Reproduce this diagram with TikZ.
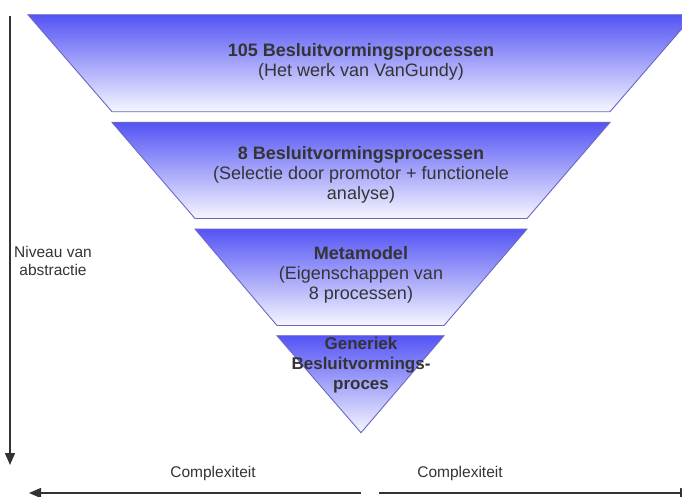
\documentclass[tikz,border=0pt]{standalone}
\usepackage{fontspec}
\setmainfont{Liberation Sans}
\usetikzlibrary{arrows.meta}
\definecolor{layertop}{RGB}{84,84,245}
\definecolor{layerbot}{RGB}{246,246,255}
\definecolor{layerline}{RGB}{104,104,196}
\definecolor{inktext}{RGB}{52,52,52}
\definecolor{axisline}{RGB}{50,50,50}
\tikzset{
  layer/.style={draw=layerline, line width=0.9pt, top color=layertop, bottom color=layerbot},
  caption/.style={align=center, text=inktext, font=\fontsize{18}{20}\selectfont, inner sep=0pt},
  axislabel/.style={align=center, text=inktext, font=\fontsize{15.5}{18}\selectfont, inner sep=0pt},
  axis/.style={draw=axisline, line width=1.4pt, -{Triangle[length=12pt,width=10pt]}}
}
\begin{document}
\begin{tikzpicture}[x=1pt,y=-1pt]
  \useasboundingbox (0,0) rectangle (682,496);
  \clip (0,0) rectangle (682,496);
  \fill[white] (0,0) rectangle (682,496);

  % funnel layers, widest on top
  \path[layer] (28,14.7) -- (694,14.7) -- (610,111.7) -- (112,111.7) -- cycle;
  \path[layer] (112,122.3) -- (610,122.3) -- (527,218.5) -- (195,218.5) -- cycle;
  \path[layer] (195,229) -- (527,229) -- (444,325.5) -- (277,325.5) -- cycle;
  \path[layer] (277,335.7) -- (444,335.7) -- (361,432.7) -- cycle;

  % layer captions
  \node[caption] (l1) at (361,61.5) {\textbf{105 Besluitvormingsprocessen}\\(Het werk van VanGundy)};
  \node[caption] (l2) at (361,175) {\textbf{8 Besluitvormingsprocessen}\\(Selectie door promotor + functionele\\analyse)};
  \node[caption] (l3) at (361,275) {\textbf{Metamodel}\\(Eigenschappen van\\8 processen)};
  \node[caption, font=\fontsize{17}{20}\selectfont\bfseries] (l4) at (361,365) {Generiek\\Besluitvormings-\\proces};

  % abstraction axis
  \coordinate (vtop) at (10,16);
  \coordinate (vend) at (10,465);
  \draw[axis] (vtop) -- (vend);
  \node[axislabel] (vlab) at (53,261) {Niveau van\\abstractie};

  % complexity axes
  \coordinate (lstart) at (361,493);
  \coordinate (lend) at (29,493);
  \coordinate (rstart) at (379,493);
  \coordinate (rend) at (692,493);
  \draw[axis] (lstart) -- (lend);
  \draw[axis] (rstart) -- (rend);
  \node[axislabel] (clab1) at (213,473) {Complexiteit};
  \node[axislabel] (clab2) at (460,473) {Complexiteit};
\end{tikzpicture}
\end{document}
